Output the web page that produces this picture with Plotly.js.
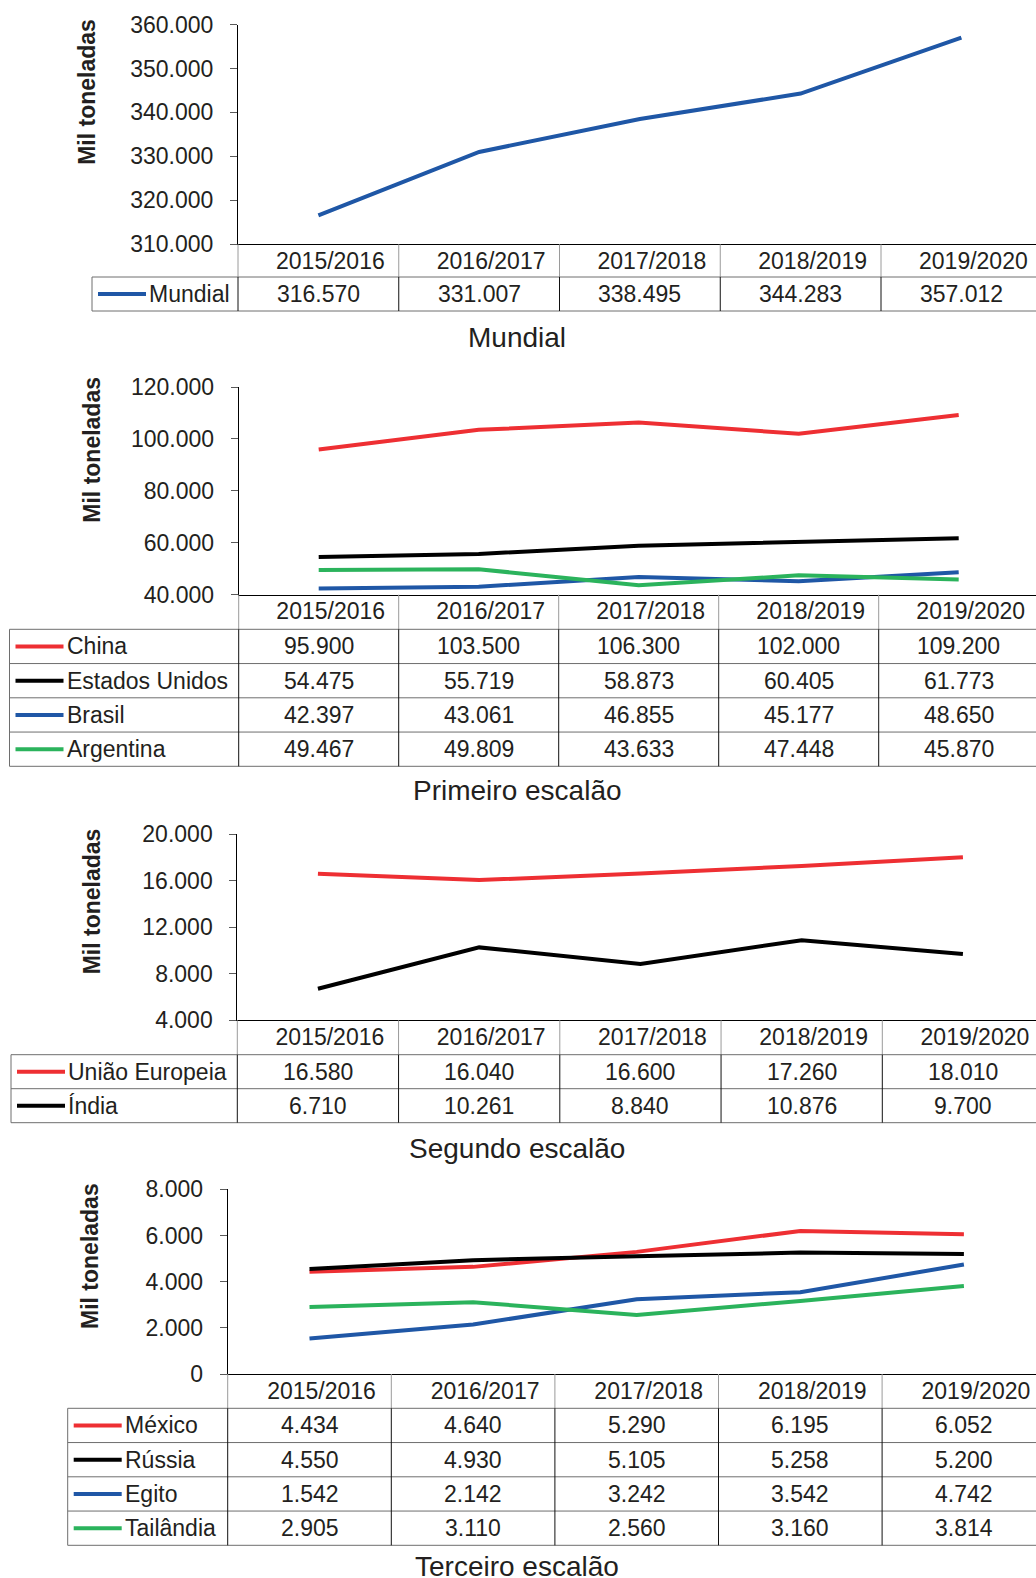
<!DOCTYPE html>
<html>
<head>
<meta charset="utf-8">
<script src="https://cdn.plot.ly/plotly-3.0.1.min.js"></script>
<style>html,body{margin:0;padding:0;background:#fff;overflow:hidden}</style>
</head>
<body>
<div id="chart" style="width:1036px;height:1578px"></div>
<script>
// ---------- DATA ----------
const categories = ['2015/2016', '2016/2017', '2017/2018', '2018/2019', '2019/2020'];

const mundialNames = ['Mundial'];
const mundial = [316570, 331007, 338495, 344283, 357012];

const primeiroNames = ['China', 'Estados Unidos', 'Brasil', 'Argentina'];
const china = [95900, 103500, 106300, 102000, 109200];
const estadosUnidos = [54475, 55719, 58873, 60405, 61773];
const brasil = [42397, 43061, 46855, 45177, 48650];
const argentina = [49467, 49809, 43633, 47448, 45870];

const segundoNames = ['União Europeia', 'Índia'];
const uniaoEuropeia = [16580, 16040, 16600, 17260, 18010];
const india = [6710, 10261, 8840, 10876, 9700];

const terceiroNames = ['México', 'Rússia', 'Egito', 'Tailândia'];
const mexico = [4434, 4640, 5290, 6195, 6052];
const russia = [4550, 4930, 5105, 5258, 5200];
const egito = [1542, 2142, 3242, 3542, 4742];
const tailandia = [2905, 3110, 2560, 3160, 3814];

const panelTitles = ['Mundial', 'Primeiro escalão', 'Segundo escalão', 'Terceiro escalão'];
const yTitle = 'Mil toneladas';
const yRanges = [[310000, 360000], [40000, 120000], [4000, 20000], [0, 8000]];
const yDticks = [10000, 20000, 4000, 2000];

// ---------- STYLE ----------
const RED = '#ee2f33', BLACK = '#000000', BLUE = '#1f57a6', GREEN = '#2bb35c';
const panels = [
  { names: mundialNames, values: [mundial], colors: [BLUE] },
  { names: primeiroNames, values: [china, estadosUnidos, brasil, argentina], colors: [RED, BLACK, BLUE, GREEN] },
  { names: segundoNames, values: [uniaoEuropeia, india], colors: [RED, BLACK] },
  { names: terceiroNames, values: [mexico, russia, egito, tailandia], colors: [RED, BLACK, BLUE, GREEN] }
];

const W = 1036, H = 1578;
const px = x => x / W;
const py = y => 1 - y / H;
const fmt = v => String(v).replace(/\B(?=(\d{3})+(?!\d))/g, '.');
const FONT = '"Liberation Sans", Arial, Helvetica, sans-serif';
const TXT = '#231f20';
const GRID_H = '#6e6e6e', GRID_HEAD = '#9a9a9a';

// pixel geometry of each panel (layout only)
const geo = [
  { xL: 92,   xA: 238,   colW: 160.75, yT: 24.5,   yB: 244.3,  hB: 277,    rh: 34,    titleY: 338,  ytX: 87.3, ytY: 91.5 },
  { xL: 9.5,  xA: 238.7, colW: 160,    yT: 387,    yB: 594.7,  hB: 629.3,  rh: 34.25, titleY: 790,  ytX: 91.7, ytY: 450 },
  { xL: 11,   xA: 237.3, colW: 161.25, yT: 834,    yB: 1020.3, hB: 1054.7, rh: 34,    titleY: 1148, ytX: 92.3, ytY: 901 },
  { xL: 67.7, xA: 227.7, colW: 163.6,  yT: 1189.3, yB: 1374,   hB: 1408.3, rh: 34.25, titleY: 1566, ytX: 90.7, ytY: 1256.3 }
];

const traces = [], shapes = [], annotations = [];
const layout = {
  width: W, height: H,
  margin: { l: 0, r: 0, t: 0, b: 0 },
  paper_bgcolor: '#ffffff', plot_bgcolor: 'rgba(0,0,0,0)',
  showlegend: false,
  separators: ',.',
  font: { family: FONT, size: 23, color: TXT }
};

function line(x0, y0, x1, y1, xref, color, width) {
  shapes.push({ type: 'line', xref: xref, yref: 'paper', x0: x0, x1: x1, y0: y0, y1: y1,
    line: { color: color, width: width || 1 }, layer: 'above' });
}

panels.forEach((p, i) => {
  const g = geo[i];
  const n = i + 1;
  const xa = n === 1 ? 'x' : 'x' + n;
  const ya = n === 1 ? 'y' : 'y' + n;
  const xKey = n === 1 ? 'xaxis' : 'xaxis' + n;
  const yKey = n === 1 ? 'yaxis' : 'yaxis' + n;
  const yoKey = 'yaxis' + (n + 4);
  const domY = [py(g.yB), py(g.yT)];

  layout[xKey] = {
    domain: [px(g.xA), 1], anchor: ya, type: 'category', categoryarray: categories,
    range: [-0.5, -0.5 + (W - g.xA) / g.colW],
    showline: true, linecolor: '#000', linewidth: 1, ticks: '', showgrid: false, zeroline: false,
    tickfont: { family: FONT, size: 23, color: TXT }, ticklabelshift: 12, ticklabelstandoff: -4,
    fixedrange: true
  };
  layout[yKey] = {
    domain: domY, anchor: xa, range: yRanges[i], tick0: yRanges[i][0], dtick: yDticks[i],
    tickformat: ',d', ticks: 'outside', ticklen: 7, tickwidth: 1, tickcolor: '#5a5a5a',
    showline: true, linecolor: '#000', linewidth: 1, showgrid: false, zeroline: false,
    tickfont: { family: FONT, size: 23, color: TXT }, ticklabelstandoff: 12, fixedrange: true
  };
  layout[yoKey] = {
    overlaying: ya, anchor: xa, domain: domY, range: yRanges[i], tick0: yRanges[i][0], dtick: yDticks[i],
    ticks: 'inside', ticklen: 7, tickwidth: 1, tickcolor: '#5a5a5a', showticklabels: false,
    showline: false, showgrid: false, zeroline: false, fixedrange: true
  };

  // series lines
  p.values.forEach((vals, s) => {
    traces.push({
      type: 'scatter', mode: 'lines', x: categories, y: vals, xaxis: xa, yaxis: ya,
      name: p.names[s], line: { color: p.colors[s], width: 4 }, hoverinfo: 'skip', showlegend: false
    });
  });

  // y title
  annotations.push({
    xref: 'paper', yref: 'paper', x: px(g.ytX), y: py(g.ytY), text: '<b>' + yTitle + '</b>',
    textangle: -90, showarrow: false, xanchor: 'center', yanchor: 'middle',
    font: { family: FONT, size: 23, color: TXT }
  });

  // panel title
  annotations.push({
    xref: 'paper', yref: 'paper', x: px(517), y: py(g.titleY), text: panelTitles[i],
    showarrow: false, xanchor: 'center', yanchor: 'middle',
    font: { family: FONT, size: 28, color: TXT }
  });

  const nRows = p.values.length;
  const bottom = g.hB + nRows * g.rh;

  // header row verticals
  line(px(g.xA), py(g.yB), px(g.xA), py(g.hB), 'paper', GRID_HEAD);
  for (let k = 1; k < categories.length; k++) {
    line(k - 0.5, py(g.yB), k - 0.5, py(g.hB), xa, GRID_HEAD);
  }
  // data rows horizontals
  for (let r = 0; r <= nRows; r++) {
    const yy = py(g.hB + r * g.rh);
    line(px(g.xL), yy, 1, yy, 'paper', GRID_H);
  }
  // data rows verticals
  line(px(g.xL), py(g.hB), px(g.xL), py(bottom), 'paper', GRID_H);
  line(px(g.xA), py(g.hB), px(g.xA), py(bottom), 'paper', '#111');
  for (let k = 1; k < categories.length; k++) {
    line(k - 0.5, py(g.hB), k - 0.5, py(bottom), xa, '#111');
  }

  // rows: legend key + label + values
  p.values.forEach((vals, s) => {
    const cy = g.hB + (s + 0.5) * g.rh;
    line(px(g.xL + 6), py(cy), px(g.xL + 54), py(cy), 'paper', p.colors[s], 4);
    annotations.push({
      xref: 'paper', yref: 'paper', x: px(g.xL + 55), y: py(cy), text: p.names[s],
      showarrow: false, xanchor: 'left', yanchor: 'middle',
      font: { family: FONT, size: 23, color: TXT }
    });
    vals.forEach((v, c) => {
      annotations.push({
        xref: xa, yref: 'paper', x: c, y: py(cy), text: fmt(v),
        showarrow: false, xanchor: 'center', yanchor: 'middle',
        font: { family: FONT, size: 23, color: TXT }
      });
    });
  });
});

layout.shapes = shapes;
layout.annotations = annotations;

Plotly.newPlot('chart', traces, layout, { staticPlot: true, displayModeBar: false, responsive: false });
</script>
</body>
</html>
